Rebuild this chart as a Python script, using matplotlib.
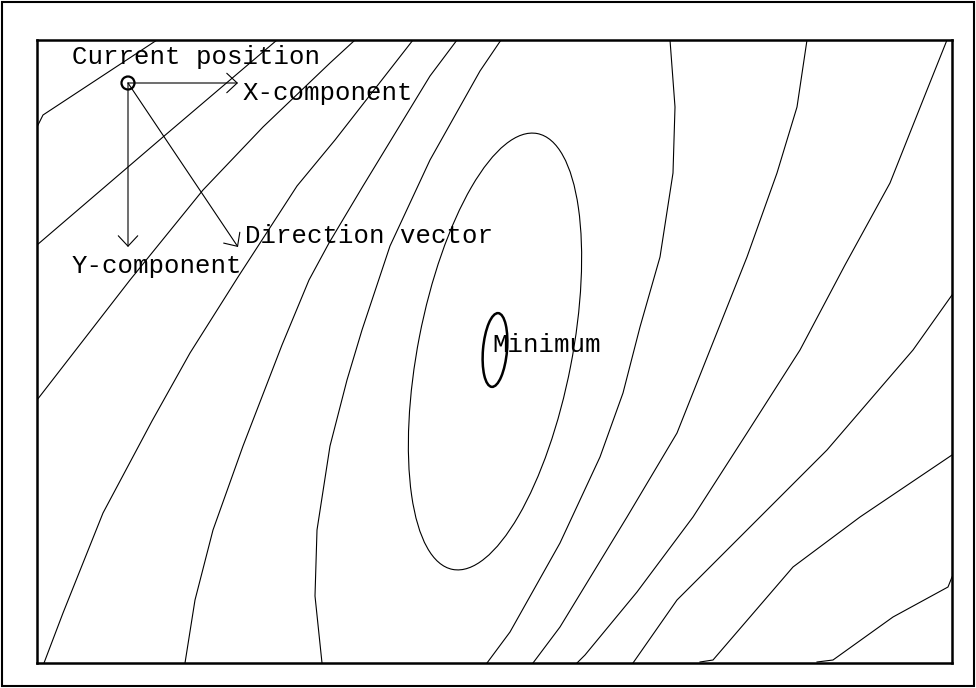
import matplotlib.pyplot as plt
from matplotlib.patches import Ellipse, Circle, Rectangle

# contour lines (plot units, origin at lower-left of the box)
a1_x = [0, 6, 120]
a1_y = [536, 548, 623]
a2_x = [0, 126, 193, 240]
a2_y = [418, 526, 583, 623]
a3_x = [0, 93, 166, 226, 293, 318]
a3_y = [263, 383, 473, 536, 600, 623]
a4_x = [7, 26, 66, 115, 153, 201, 260, 298, 376]
a4_y = [0, 50, 150, 242, 310, 386, 477, 523, 623]
a5_x = [148, 158, 176, 206, 245, 272, 292, 326, 393, 420]
a5_y = [0, 63, 133, 217, 318, 383, 420, 477, 587, 623]
a6_x = [285, 278, 280, 293, 310, 325, 353, 393, 443, 464]
a6_y = [0, 67, 133, 217, 283, 333, 417, 503, 592, 623]
b_x = [633, 638, 636, 623, 603, 586, 563, 523, 473, 450]
b_y = [623, 556, 490, 406, 336, 270, 206, 120, 31, 0]
c_x = [770, 760, 740, 710, 673, 640, 590, 523, 496]
c_y = [623, 556, 490, 406, 313, 230, 146, 36, 0]
d_x = [910, 890, 853, 808, 763, 710, 656, 600, 548, 540]
d_y = [623, 573, 480, 398, 313, 230, 146, 71, 8, 0]
e_x = [915, 876, 790, 710, 640, 596]
e_y = [368, 313, 213, 133, 63, 0]
f_x = [915, 823, 756, 676, 663]
f_y = [208, 146, 96, 3, 1]
g_x = [915, 911, 856, 796, 780]
g_y = [86, 76, 46, 3, 1]

lines = [(a1_x, a1_y), (a2_x, a2_y), (a3_x, a3_y), (a4_x, a4_y),
         (a5_x, a5_y), (a6_x, a6_y), (b_x, b_y), (c_x, c_y),
         (d_x, d_y), (e_x, e_y), (f_x, f_y), (g_x, g_y)]

# the two closed contours round the minimum: centre, major, minor, angle
ring_outer = (458, 311.5, 444, 154, 79)
ring_inner = (458, 313, 74, 24, 85)

# current position and its components
pos = (91, 580)
dx, dy = 110, -164

fig = plt.figure(figsize=(9.76, 6.88), dpi=100)
ax = fig.add_axes([37/976, 25/688, 915/976, 623/688])
ax.set_xlim(0, 915)
ax.set_ylim(0, 623)
ax.set_xticks([])
ax.set_yticks([])
for s in ax.spines.values():
    s.set_linewidth(1.8)

for xs, ys in lines:
    ax.plot(xs, ys, color='black', lw=0.8)

cx, cy, w, h, ang = ring_outer
ax.add_patch(Ellipse((cx, cy), w, h, angle=ang, fill=False, lw=0.8, ec='black'))
cx, cy, w, h, ang = ring_inner
ax.add_patch(Ellipse((cx, cy), w, h, angle=ang, fill=False, lw=1.8, ec='black'))

ax.add_patch(Circle(pos, 6.5, fill=False, lw=1.6, ec='black'))
arrow = dict(arrowstyle='->,head_length=0.75,head_width=0.7', color='black',
             lw=0.8, shrinkA=0, shrinkB=0)
ax.annotate('', xy=(pos[0] + dx, pos[1]), xytext=pos, arrowprops=arrow)
ax.annotate('', xy=(pos[0], pos[1] + dy), xytext=pos, arrowprops=arrow)
ax.annotate('', xy=(pos[0] + dx, pos[1] + dy), xytext=pos, arrowprops=arrow)

font = dict(family='Liberation Mono', fontsize=18.5, color='black', va='baseline')
ax.text(35, 599, 'Current position', **font)
ax.text(206, 563, 'X-component', **font)
ax.text(35, 390, 'Y-component', **font)
ax.text(208, 420, 'Direction vector', **font)
ax.text(455, 311, 'Minimum', **font)

fig.add_artist(Rectangle((2/976, 2/688), 972/976, 684/688, transform=fig.transFigure,
                         fill=False, lw=1.5, ec='black'))

fig.savefig('out.png', dpi=100)
